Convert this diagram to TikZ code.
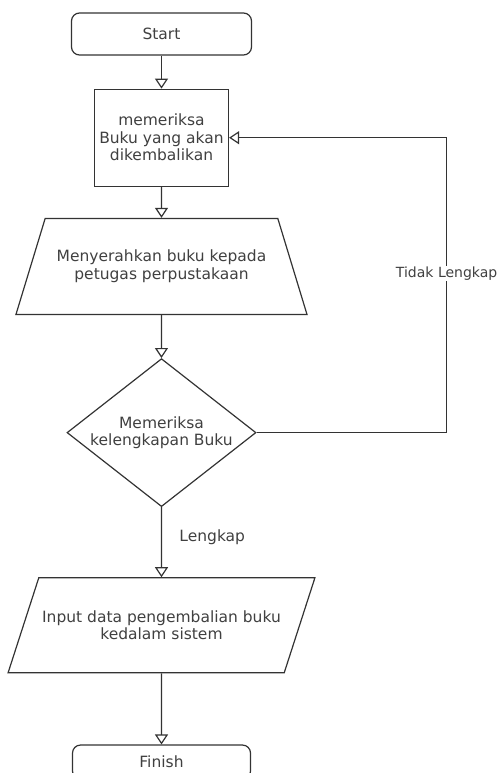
\documentclass[tikz,border=0pt]{standalone}
\usepackage{fontspec}
\setmainfont{DejaVu Sans}
\usetikzlibrary{positioning,arrows.meta,shapes.geometric}

\begin{document}
\begin{tikzpicture}[x=1pt,y=-1pt,>={Triangle[open,width=13pt,length=10pt]},font=\fontsize{15.5}{17.5}\selectfont,line width=1.2pt]
\tikzstyle{terminal}=[draw=black!80,rounded corners=8pt,align=center,text=black!75,minimum width=180pt,minimum height=42pt]
\tikzstyle{process}=[draw=black!80,align=center,text=black!75,minimum width=134pt,minimum height=97pt]
\tikzstyle{manual}=[draw=black!80,trapezium,trapezium angle=73,trapezium stretches body,inner ysep=31.5pt,align=center,text=black!75,minimum width=291pt,minimum height=96pt]
\tikzstyle{inout}=[draw=black!80,trapezium,trapezium left angle=72,trapezium right angle=108,trapezium stretches body,inner ysep=32.5pt,align=center,text=black!75,minimum width=301pt,minimum height=95pt]
\tikzstyle{decision}=[draw=black!80,diamond,shape aspect=1.28,inner sep=0pt,align=center,text=black!75,minimum width=189pt,minimum height=148pt]
\tikzstyle{flow}=[->,draw=black!80]

\useasboundingbox (0,0) rectangle (499,773);

\node[terminal] (start) at (161.5,34) {Start};
\node[process,below=33pt of start] (inspect) {memeriksa\\Buku yang akan\\dikembalikan};
\node[manual,below=31pt of inspect] (handover) {Menyerahkan buku kepada\\petugas perpustakaan};
\node[decision,below=43pt of handover] (verify) {Memeriksa\\kelengkapan Buku};
\node[inout,below=70pt of verify] (record) {Input data pengembalian buku\\kedalam sistem};
\node[terminal,minimum width=178pt,minimum height=34pt,below=71pt of record] (finish) {Finish};

\coordinate[right=190pt of verify.east] (loop);

\draw[flow] (start) -- (inspect);
\draw[flow] (inspect) -- (handover);
\draw[flow] (handover) -- (verify);
\draw[flow] (verify) -- node[pos=0.43,anchor=west,xshift=14pt,text=black!75] {Lengkap} (record);
\draw[flow] (record) -- (finish);
\draw[flow] (verify.east) -- (loop) |- node[pos=0.27,fill=white,inner sep=1pt,text=black!75,font=\fontsize{14}{16}\selectfont] {Tidak Lengkap} (inspect.east);
\end{tikzpicture}
\end{document}
